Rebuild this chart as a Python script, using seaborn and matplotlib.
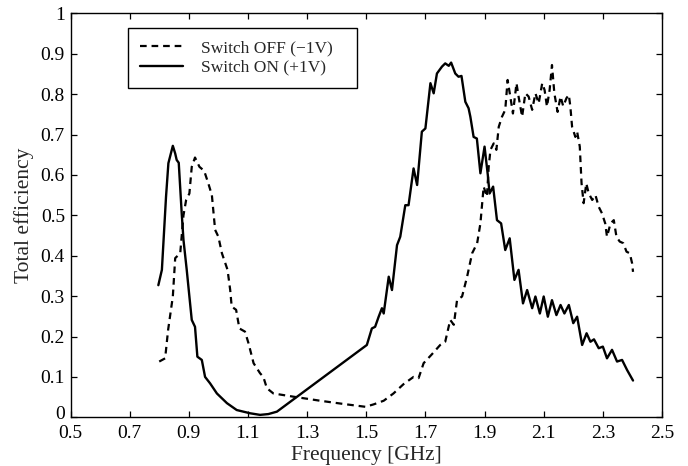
import matplotlib
matplotlib.use("Agg")
import matplotlib.pyplot as plt
import matplotlib.transforms as mtransforms
import seaborn as sns
import numpy as np

# ---- data ----
off_freq = [0.800, 0.820, 0.830, 0.846, 0.854, 0.871, 0.882, 0.891, 0.902, 0.910,
            0.921, 0.936, 0.944, 0.952, 0.966, 0.978, 0.989, 1.000, 1.012, 1.031,
            1.040, 1.045, 1.060, 1.071, 1.090, 1.102, 1.119, 1.141, 1.152, 1.164,
            1.186, 1.254, 1.344, 1.423, 1.497, 1.525, 1.559, 1.592, 1.626, 1.660,
            1.677, 1.694, 1.722, 1.750, 1.767, 1.784, 1.796, 1.807, 1.824, 1.841,
            1.858, 1.875, 1.886, 1.892, 1.897, 1.908, 1.914, 1.920, 1.931, 1.940,
            1.948, 1.959, 1.970, 1.978, 1.987, 1.996, 2.008, 2.015, 2.027, 2.038,
            2.049, 2.061, 2.072, 2.083, 2.095, 2.103, 2.111, 2.120, 2.128, 2.136,
            2.147, 2.157, 2.166, 2.177, 2.185, 2.190, 2.196, 2.207, 2.213, 2.222,
            2.228, 2.235, 2.244, 2.252, 2.264, 2.275, 2.286, 2.297, 2.308, 2.314,
            2.326, 2.337, 2.346, 2.357, 2.369, 2.380, 2.391, 2.399, 2.402]
off_eff = [0.138, 0.146, 0.216, 0.299, 0.394, 0.406, 0.500, 0.538, 0.554, 0.620,
           0.643, 0.620, 0.615, 0.610, 0.579, 0.550, 0.464, 0.447, 0.406, 0.365,
           0.315, 0.274, 0.266, 0.220, 0.212, 0.183, 0.134, 0.109, 0.100, 0.072,
           0.059, 0.051, 0.041, 0.033, 0.026, 0.032, 0.041, 0.059, 0.082, 0.100,
           0.097, 0.134, 0.156, 0.179, 0.187, 0.241, 0.229, 0.290, 0.299, 0.348,
           0.406, 0.431, 0.480, 0.530, 0.571, 0.546, 0.620, 0.662, 0.678, 0.662,
           0.719, 0.744, 0.761, 0.835, 0.794, 0.752, 0.827, 0.794, 0.744, 0.802,
           0.794, 0.761, 0.802, 0.777, 0.827, 0.810, 0.769, 0.810, 0.872, 0.802,
           0.756, 0.794, 0.770, 0.790, 0.798, 0.770, 0.719, 0.694, 0.707, 0.670,
           0.579, 0.530, 0.579, 0.555, 0.538, 0.550, 0.521, 0.505, 0.480, 0.447,
           0.480, 0.488, 0.447, 0.435, 0.431, 0.410, 0.406, 0.381, 0.360]

on_freq = [0.797, 0.809, 0.823, 0.831, 0.846, 0.854, 0.859, 0.866, 0.876, 0.882,
           0.893, 0.902, 0.910, 0.921, 0.929, 0.944, 0.955, 0.972, 0.995, 1.029,
           1.062, 1.107, 1.141, 1.169, 1.198, 1.502, 1.519, 1.530, 1.542, 1.553,
           1.559, 1.576, 1.587, 1.604, 1.615, 1.632, 1.643, 1.660, 1.672, 1.688,
           1.700, 1.717, 1.728, 1.739, 1.756, 1.767, 1.779, 1.787, 1.801, 1.812,
           1.822, 1.835, 1.846, 1.852, 1.863, 1.874, 1.886, 1.900, 1.911, 1.917,
           1.929, 1.942, 1.956, 1.970, 1.985, 2.001, 2.015, 2.030, 2.044, 2.061,
           2.072, 2.087, 2.100, 2.114, 2.128, 2.143, 2.157, 2.170, 2.185, 2.200,
           2.213, 2.230, 2.245, 2.258, 2.270, 2.286, 2.300, 2.314, 2.331, 2.348,
           2.365, 2.382, 2.402]
on_eff = [0.327, 0.365, 0.546, 0.629, 0.672, 0.653, 0.637, 0.630, 0.505, 0.439,
          0.365, 0.299, 0.241, 0.224, 0.150, 0.142, 0.100, 0.084, 0.059, 0.035,
          0.018, 0.010, 0.006, 0.008, 0.014, 0.179, 0.220, 0.224, 0.249, 0.270,
          0.257, 0.348, 0.315, 0.426, 0.447, 0.525, 0.525, 0.616, 0.575, 0.707,
          0.715, 0.827, 0.802, 0.851, 0.868, 0.876, 0.870, 0.878, 0.851, 0.843,
          0.845, 0.781, 0.765, 0.744, 0.694, 0.690, 0.604, 0.670, 0.600, 0.554,
          0.571, 0.488, 0.480, 0.414, 0.443, 0.340, 0.365, 0.282, 0.315, 0.270,
          0.299, 0.257, 0.299, 0.249, 0.290, 0.253, 0.278, 0.257, 0.278, 0.233,
          0.249, 0.179, 0.208, 0.187, 0.193, 0.171, 0.175, 0.146, 0.167, 0.138,
          0.142, 0.117, 0.091]

x_ticks = [0.5, 0.7, 0.9, 1.1, 1.3, 1.5, 1.7, 1.9, 2.1, 2.3, 2.5]
x_tick_labels = ["0.5", "0.7", "0.9", "1.1", "1.3", "1.5", "1.7", "1.9", "2.1", "2.3", "2.5"]
y_ticks = [0, 0.1, 0.2, 0.3, 0.4, 0.5, 0.6, 0.7, 0.8, 0.9, 1.0]
y_tick_labels = ["0", "0.1", "0.2", "0.3", "0.4", "0.5", "0.6", "0.7", "0.8", "0.9", "1"]
label_off = "Switch OFF (\u22121V)"
label_on = "Switch ON (+1V)"

sns.set_style("ticks")
plt.rcParams['font.family'] = ['Liberation Serif', 'DejaVu Serif']

fig = plt.figure(figsize=(6.88, 4.66), dpi=100)
ax = fig.add_axes([70.5 / 688, 1 - 417.3 / 466, 591.5 / 688, 404 / 466])

sns.lineplot(x=off_freq, y=off_eff, ax=ax, sort=False, estimator=None,
             color="black", linewidth=1.6, linestyle=(0, (3.0, 2.2)), label=label_off)
sns.lineplot(x=on_freq, y=on_eff, ax=ax, sort=False, estimator=None,
             color="black", linewidth=1.7, linestyle="-", label=label_on)

ax.set_xlim(0.5, 2.5)
ax.set_ylim(0, 1)
ax.set_xticks(x_ticks)
ax.set_xticklabels(x_tick_labels)
ax.set_yticks(y_ticks)
ax.set_yticklabels(y_tick_labels)
ax.tick_params(direction="in", top=True, right=True, length=4.5, width=0.9,
               labelsize=14, colors="black")
ax.tick_params(axis="x", pad=5.5)
ax.tick_params(axis="y", pad=4)
for s in ax.spines.values():
    s.set_visible(True)
    s.set_linewidth(1.0)
    s.set_color("black")

# lift the "0" y tick label slightly so it sits just above the "0.5" x tick label
zero_lbl = ax.get_yticklabels()[0]
zero_lbl.set_transform(zero_lbl.get_transform() +
                       mtransforms.ScaledTranslation(0, 3.5 / 72, fig.dpi_scale_trans))

ax.set_xlabel("Frequency [GHz]", fontsize=15.5, labelpad=3)
ax.set_ylabel("Total efficiency", fontsize=15.5, labelpad=5)

w = (357 - 128) / 591.5
h = (85 - 28.3) / 404
leg = ax.legend(loc="upper left", bbox_to_anchor=(0.097, 0.964 - h, w, h), mode="expand",
                borderaxespad=0, fontsize=12.5, frameon=True, fancybox=False, shadow=False,
                handlelength=2.5, handletextpad=1.0, labelspacing=0.2,
                borderpad=0.7)
leg.get_frame().set_edgecolor("black")
leg.get_frame().set_linewidth(1.0)
leg.get_frame().set_alpha(1)

fig.savefig("out.png", dpi=100)
